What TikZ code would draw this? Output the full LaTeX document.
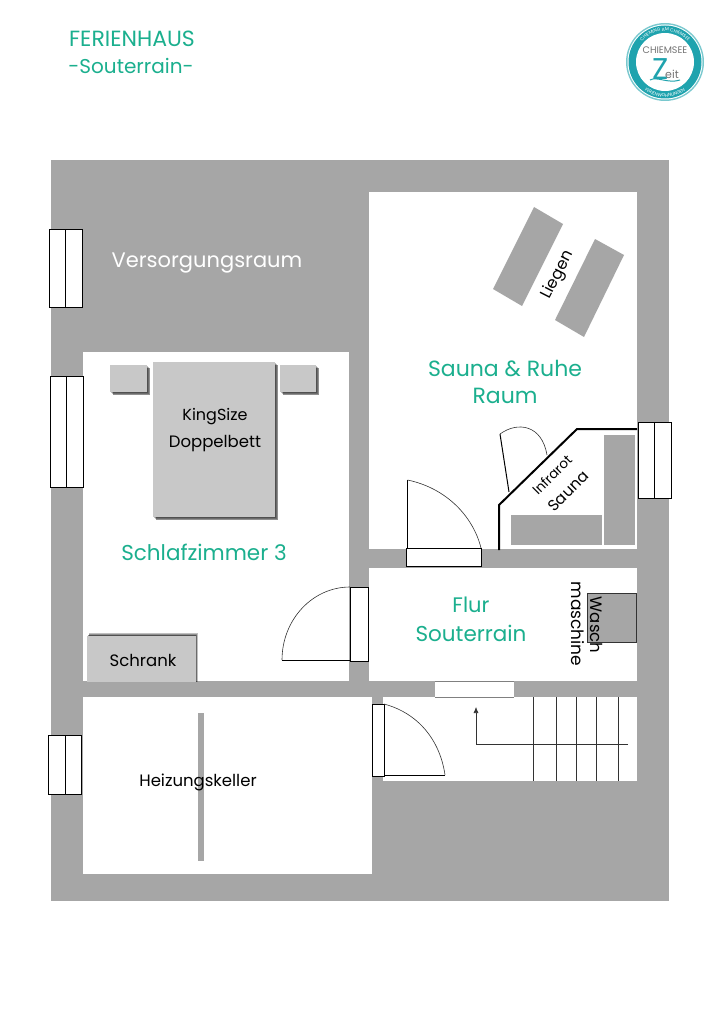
\documentclass[tikz,border=0pt]{standalone}
\usepackage{fontspec}
\setmainfont{Poppins}
\usetikzlibrary{decorations.text,arrows.meta}
\definecolor{wand}{HTML}{A6A6A6}
\definecolor{moebel}{HTML}{C8C8C8}
\definecolor{gruen}{HTML}{1BAF8E}
\definecolor{tuerkis}{HTML}{1FA3AE}
\newcommand{\gr}[1]{\fontsize{#1}{#1}\selectfont}
% moebelstueck mit weichem schatten: x1 y1 x2 y2, versatz dx dy
\newcommand{\moebelstueck}[6]{
  \foreach \s in {1,2,3,4}{
    \fill[black,opacity=0.25] ({#1+\s*#5*0.85},{#2+\s*#6*0.85}) rectangle ({#3+\s*#5*0.85},{#4+\s*#6*0.85});
  }
  \fill[moebel] (#1,#2) rectangle (#3,#4);
}
\tikzset{
  raum/.style={fill=white,draw=none},
  fenster/.style={fill=white,draw=black,line width=1pt},
  tuerblatt/.style={draw=black!80,line width=0.6pt},
  titel/.style={text=gruen},
  raumname/.style={text=gruen},
  moebeltext/.style={text=black},
}
\begin{document}
\begin{tikzpicture}[x=1pt,y=-1pt]
\useasboundingbox (0,0) rectangle (724,1024);

% titel
\node[titel,font=\gr{22}] (titelA) at (132,39) {FERIENHAUS};
\node[titel,font=\gr{20}] (titelB) at (131,66) {-Souterrain-};

% logo
\fill[tuerkis!60] (665,62) circle (39);
\fill[white] (665,62) circle (37.5);
\fill[tuerkis] (665,62) circle (36.5);
\fill[white] (665,62) circle (29);
\path[decorate,decoration={text along path,text align=center,
  text={|\gr{4.5}\color{white}|CHIEMING AM CHIEMSEE}}]
  (634,62) arc[start angle=180,end angle=360,radius=31];
\path[decorate,decoration={text along path,text align=center,
  text={|\gr{4.5}\color{white}|FERIENWOHNUNGEN}}]
  (630,62) arc[start angle=180,end angle=0,radius=35];
\node[text=black!55,font=\gr{9.5}] (logoA) at (665,50) {CHIEMSEE};
\node[text=tuerkis,font=\gr{30}] (logoB) at (661,69) {Z};
\node[text=black!55,font=\gr{11}] (logoC) at (672,74) {eit};
\draw[tuerkis,line width=1pt] (650,80) .. controls (657,76) and (668,84) .. (680,80);

% mauerwerk
\fill[wand] (51,160) rectangle (669,901);

% raeume
\fill[raum] (369,192) rectangle (637,549);
\fill[raum] (83,352) rectangle (349,681);
\fill[raum] (369,568) rectangle (637,681);
\fill[raum] (383,697) rectangle (637,781);
\fill[raum] (83,697) rectangle (372,874);
\fill[wand] (373,697) rectangle (383,704);

% fenster
\foreach \xa/\xm/\xb/\ya/\yb in {49/65/82/230/307,50/66/83/376/487,48/65/81/735/794,638/654/671/422/498}{
  \draw[fenster] (\xa,\ya) rectangle (\xb,\yb);
  \draw[fenster] (\xm,\ya) -- (\xm,\yb);
}

% bett
\moebelstueck{153}{362}{275}{517}{1}{1}
\moebelstueck{110}{365}{147}{392}{1}{1}
\moebelstueck{280}{365}{316}{392}{1}{1}
\node[moebeltext,font=\gr{16}] (bettA) at (215,417) {KingSize};
\node[moebeltext,font=\gr{16.5}] (bettB) at (215,444) {Doppelbett};

% schrank
\begin{scope}
\clip (80,620) rectangle (210,681);
\moebelstueck{87}{636}{195.5}{690}{0.6}{-0.8}
\end{scope}
\node[moebeltext,font=\gr{16.5}] (schrank) at (143,660) {Schrank};

% tuer schlafzimmer
\draw[fenster] (350,587) rectangle (368,661);
\draw[tuerblatt] (350,587) arc[start angle=90,end angle=180,x radius=68,y radius=-73];
\draw[black,line width=1pt] (282,660) -- (350,660);

% tuer sauna
\draw[fenster] (406,548) rectangle (481,566);
\draw[black,line width=1pt] (407.5,480) -- (407.5,548);
\draw[tuerblatt] (407.5,480) .. controls (446,488) and (473,516) .. (481,548);

% tuer heizung
\draw[fenster] (372,704) rectangle (384,776);
\draw[black,line width=1pt] (384,775) -- (445,775);
\draw[tuerblatt] (384,704) .. controls (418,713) and (440,740) .. (445,775);

% infrarot sauna
\fill[wand] (511,515) rectangle (602,545);
\fill[wand] (604,435) rectangle (634.5,545);
\draw[black,line width=2pt] (499,550) -- (499,505) -- (577,429) -- (637,429);
\draw[black,line width=1pt] (509,492) -- (500,434);
\draw[tuerblatt] (500,434) .. controls (518,421) and (542,425) .. (547,455);
\node[rotate=45,text=black,font=\gr{13.5}] (infrarot) at (552,475) {Infrarot};
\node[rotate=45,text=black,font=\gr{15.5}] (sauna) at (568,491) {Sauna};

% liegen
\fill[wand] (534,207) -- (563,224) -- (522,306) -- (493,289) -- cycle;
\fill[wand] (595,239) -- (624,255) -- (584,337) -- (555,320) -- cycle;
\node[rotate=63,text=black,font=\gr{16}] (liegen) at (558,275) {Liegen};

% waschmaschine
\filldraw[fill=wand,draw=black!80,line width=0.8pt] (587,593) rectangle (636.5,642);
\node[rotate=-90,moebeltext,font=\gr{16.5}] (waschA) at (597,625) {Wasch};
\node[rotate=-90,moebeltext,font=\gr{17}] (waschB) at (578,624) {maschine};

% treppe
\fill[white] (435,682) rectangle (514,697);
\draw[black!50,line width=0.5pt] (435,681.5) -- (514,681.5);
\draw[black!50,line width=0.5pt] (435,697) -- (514,697);
\foreach \xs in {533,556,576,596,618}{
  \draw[black!80,line width=0.6pt] (\xs,697) -- (\xs,781);
}
\draw[black!80,line width=0.6pt,-{Latex[length=6pt,width=5pt]}] (628,744) -- (476,744) -- (476,707);

% heizung
\fill[wand] (198,713) rectangle (204,861);
\node[moebeltext,font=\gr{16.5}] (heizung) at (198,782) {Heizungskeller};

% raumnamen
\node[raumname,text=white,font=\gr{21}] (versorgung) at (207,263) {Versorgungsraum};
\node[raumname,font=\gr{22}] (saunaA) at (505,368) {Sauna \& Ruhe};
\node[raumname,font=\gr{22}] (saunaB) at (505,396) {Raum};
\node[raumname,font=\gr{21.5}] (schlaf) at (204,552) {Schlafzimmer 3};
\node[raumname,font=\gr{21}] (flurA) at (471,605) {Flur};
\node[raumname,font=\gr{21.5}] (flurB) at (471,633) {Souterrain};
\end{tikzpicture}
\end{document}
